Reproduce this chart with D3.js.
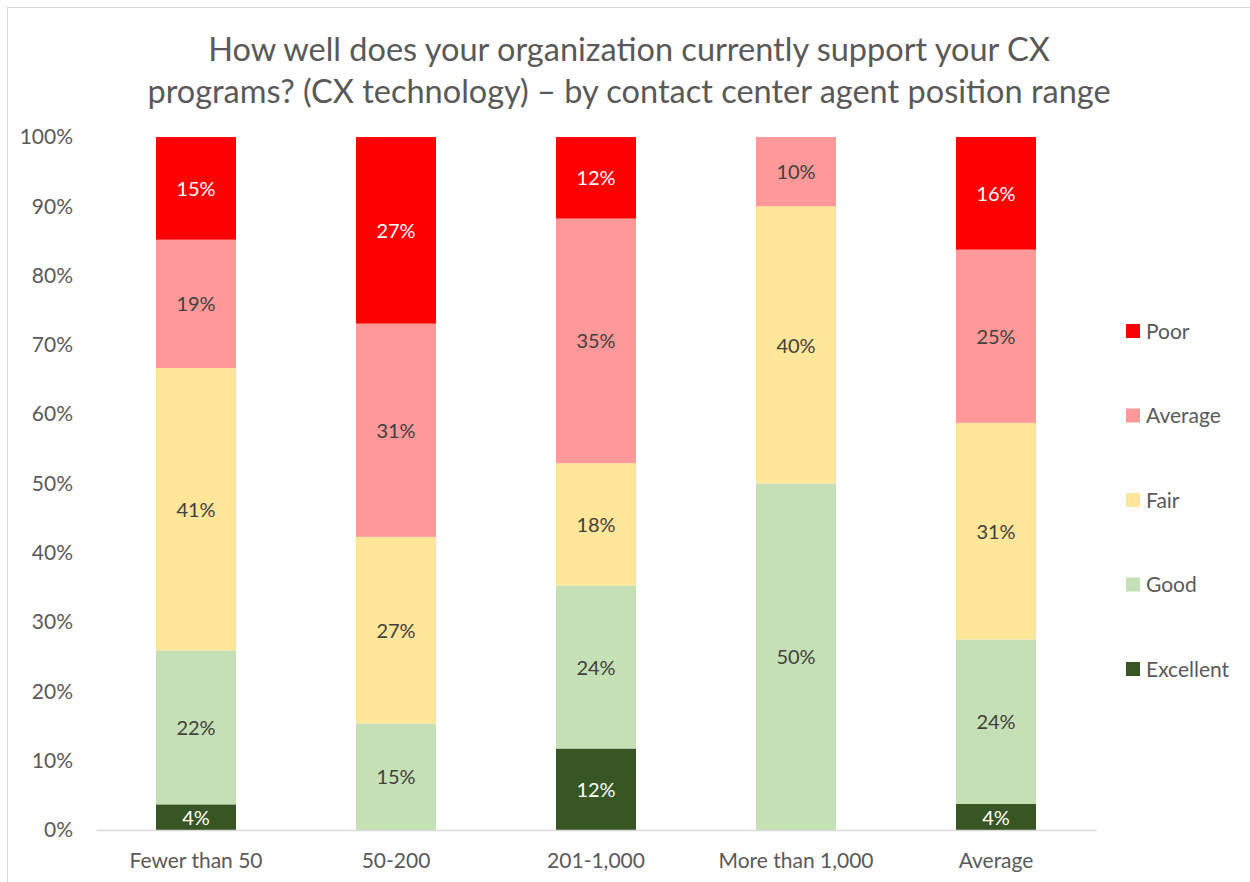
<!DOCTYPE html>
<html>
<head>
<meta charset="utf-8">
<script src="https://cdn.jsdelivr.net/npm/d3@7"></script>
<style>
  html, body { margin: 0; padding: 0; background: #fff; }
  svg { display: block; font-family: Lato, "Open Sans", sans-serif; }
</style>
</head>
<body>
<svg id="chart" width="1250" height="882"></svg>
<script>
// Survey share by contact center size (percent of respondents)
const categories = ["Fewer than 50", "50-200", "201-1,000", "More than 1,000", "Average"];
const seriesNames = ["Excellent", "Good", "Fair", "Average", "Poor"];
const excellent = [3.70, 0, 11.76, 0, 3.75];
const good      = [22.22, 15.38, 23.53, 50, 23.75];
const fair      = [40.74, 26.92, 17.65, 40, 31.25];
const average   = [18.52, 30.77, 35.29, 10, 25];
const poor      = [14.81, 26.92, 11.76, 0, 16.25];
const yTicks = [0, 10, 20, 30, 40, 50, 60, 70, 80, 90, 100];
const titleLines = [
  "How well does your organization currently support your CX",
  "programs? (CX technology) \u2013 by contact center agent position range"
];

const seriesValues = [excellent, good, fair, average, poor];
const colors = ["#375623", "#C5E0B4", "#FFE699", "#FF9999", "#FF0000"];
const labelColors = ["#FFFFFF", "#404040", "#404040", "#404040", "#FFFFFF"];

const rows = categories.map((c, i) => {
  const r = { category: c };
  seriesNames.forEach((s, k) => { r[s] = seriesValues[k][i]; });
  return r;
});

const svg = d3.select("#chart");

// chart frame
svg.append("rect")
  .attr("x", 7.5).attr("y", 7.5)
  .attr("width", 1300).attr("height", 1000)
  .attr("fill", "#fff").attr("stroke", "#D9D9D9").attr("stroke-width", 1);

const plot = { left: 96, right: 1096, top: 137, bottom: 830 };

const x = d3.scaleBand()
  .domain(categories)
  .range([plot.left, plot.right])
  .paddingInner(0.6)
  .paddingOuter(0.3);

const y = d3.scaleLinear()
  .domain([0, 100])
  .range([plot.bottom, plot.top]);

// title
svg.append("g").selectAll("text")
  .data(titleLines)
  .join("text")
  .attr("x", 629)
  .attr("y", (d, i) => 61 + i * 42)
  .attr("text-anchor", "middle")
  .attr("font-size", 32.5)
  .attr("fill", "#595959")
  .text(d => d);

// y axis labels
const yAxis = d3.axisLeft(y)
  .tickValues(yTicks)
  .tickFormat(d => d + "%")
  .tickSize(0)
  .tickPadding(23);
const yg = svg.append("g")
  .attr("transform", `translate(${plot.left},0)`)
  .call(yAxis);
yg.select(".domain").remove();
yg.selectAll("text")
  .attr("font-size", 21)
  .attr("fill", "#595959")
  .attr("font-family", "Lato, sans-serif");

// stacked bars
const stack = d3.stack().keys(seriesNames);
const layers = stack(rows);

const groups = svg.append("g").selectAll("g")
  .data(layers)
  .join("g")
  .attr("fill", (d, i) => colors[i]);

groups.selectAll("rect")
  .data(d => d.filter(p => p[1] - p[0] > 0))
  .join("rect")
  .attr("x", d => x(d.data.category))
  .attr("y", d => y(d[1]))
  .attr("width", x.bandwidth())
  .attr("height", d => y(d[0]) - y(d[1]));

// data labels
const labelGroups = svg.append("g").selectAll("g")
  .data(layers)
  .join("g")
  .attr("fill", (d, i) => labelColors[i]);

labelGroups.each(function(layer) {
  const key = layer.key;
  d3.select(this).selectAll("text")
    .data(layer.filter(p => p.data[key] > 0))
    .join("text")
    .attr("x", d => x(d.data.category) + x.bandwidth() / 2)
    .attr("y", d => (y(d[0]) + y(d[1])) / 2)
    .attr("dy", "0.38em")
    .attr("text-anchor", "middle")
    .attr("font-size", 20)
    .text(d => Math.round(d.data[key]) + "%");
});

// x axis
const xAxis = d3.axisBottom(x).tickSize(0).tickPadding(23);
const xg = svg.append("g")
  .attr("transform", `translate(0,${plot.bottom})`)
  .call(xAxis);
xg.select(".domain")
  .attr("stroke", "#D9D9D9")
  .attr("stroke-width", 1.5);
xg.selectAll("text")
  .attr("font-size", 21)
  .attr("fill", "#595959")
  .attr("font-family", "Lato, sans-serif");

// legend, top entry = Poor
const legendItems = seriesNames.map((s, i) => ({ name: s, color: colors[i] })).reverse();
const legend = svg.append("g").selectAll("g")
  .data(legendItems)
  .join("g")
  .attr("transform", (d, i) => `translate(1126,${331 + i * 84.5})`);
legend.append("rect")
  .attr("x", 0).attr("y", -7)
  .attr("width", 14).attr("height", 14)
  .attr("fill", d => d.color);
legend.append("text")
  .attr("x", 20)
  .attr("dy", "0.36em")
  .attr("font-size", 21)
  .attr("fill", "#595959")
  .text(d => d.name);
</script>
</body>
</html>
